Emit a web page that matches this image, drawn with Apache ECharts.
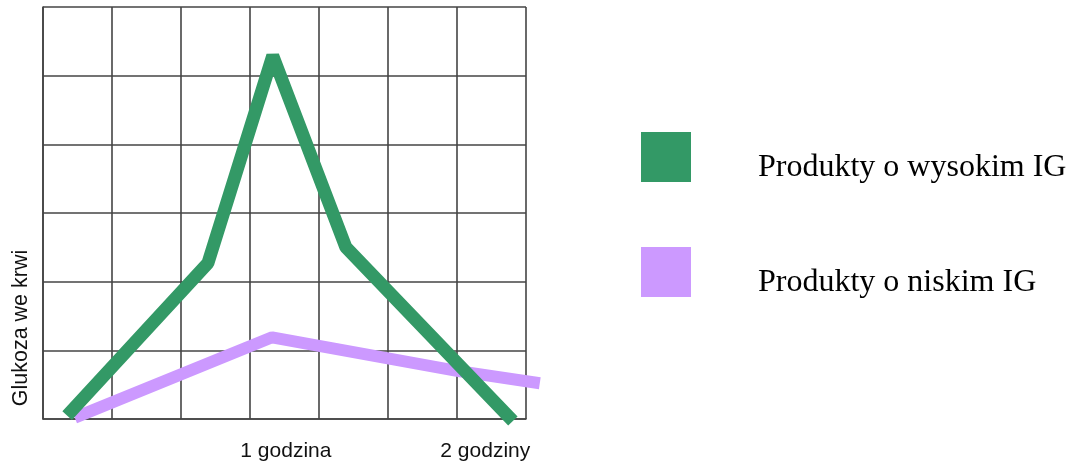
<!DOCTYPE html>
<html>
<head>
<meta charset="utf-8">
<script src="https://cdn.jsdelivr.net/npm/echarts@6/dist/echarts.min.js"></script>
<style>
html,body{margin:0;padding:0;background:#fff;}
#chart{width:1074px;height:465px;}
</style>
</head>
<body>
<div id="chart"></div>
<script>
// Data (x in grid columns, y in grid rows)
const seriesNames = ['Produkty o wysokim IG', 'Produkty o niskim IG'];
const highGI = [[0.35, 0.05], [2.39, 2.27], [3.33, 5.29], [4.39, 2.50], [6.81, -0.03]];
const lowGI = [[0.46, 0.02], [3.32, 1.19], [6.0, 0.70], [7.2, 0.52]];
const xTickValues = [3.52, 6.41];
const xTickLabels = ['1 godzina', '2 godziny'];
const yAxisTitle = 'Glukoza we krwi';

const chart = echarts.init(document.getElementById('chart'));
const gridColor = '#444444';
// grid 0: the 7x6 squared paper (x 0..7); grid 1: same scale, a bit wider so lines may run past the right edge
const colW = 69;
chart.setOption({
  animation: false,
  backgroundColor: '#fff',
  grid: [
    {left: 43, top: 7, right: 1074 - 43 - 7 * colW, bottom: 46},
    {left: 43, top: 7, right: 1074 - 43 - 7.5 * colW, bottom: 46}
  ],
  xAxis: [
    {
      gridIndex: 0, type: 'value', min: 0, max: 7, interval: 1,
      axisLine: {show: true, lineStyle: {color: gridColor, width: 1.6}},
      axisTick: {show: false},
      splitLine: {show: true, lineStyle: {color: gridColor, width: 1.6}},
      axisLabel: {
        show: true,
        customValues: xTickValues,
        formatter: function (v) {
          const i = xTickValues.findIndex(t => Math.abs(t - v) < 1e-6);
          return i >= 0 ? xTickLabels[i] : '';
        },
        margin: 22,
        color: '#111',
        fontFamily: 'Liberation Sans',
        fontSize: 21
      }
    },
    {
      gridIndex: 1, type: 'value', min: 0, max: 7.5,
      show: false, splitLine: {show: false}
    }
  ],
  yAxis: [
    {
      gridIndex: 0, type: 'value', min: 0, max: 6, interval: 1,
      name: yAxisTitle,
      nameLocation: 'middle',
      nameRotate: 90,
      nameGap: 11,
      nameTextStyle: {
        color: '#111', fontFamily: 'Liberation Sans', fontSize: 21.5,
        padding: [0, 230, 0, 0]
      },
      axisLine: {show: true, lineStyle: {color: gridColor, width: 1.6}},
      axisTick: {show: false},
      axisLabel: {show: false},
      splitLine: {show: true, lineStyle: {color: gridColor, width: 1.6}}
    },
    {
      gridIndex: 1, type: 'value', min: 0, max: 6,
      show: false, splitLine: {show: false}
    }
  ],
  legend: {
    orient: 'vertical',
    left: 641, top: 132,
    padding: 0,
    itemWidth: 50, itemHeight: 71, itemGap: 44,
    icon: 'path://M0,0H50V50H0Z M0,71L0.1,71',
    data: [seriesNames[0], seriesNames[1]],
    itemStyle: {borderWidth: 0},
    textStyle: {
      color: '#000', fontFamily: 'Liberation Serif', fontSize: 32,
      padding: [0, 0, 0, 62]
    }
  },
  series: [
    {
      name: seriesNames[1], type: 'line', data: lowGI,
      xAxisIndex: 1, yAxisIndex: 1,
      symbol: 'none', clip: false, z: 2,
      itemStyle: {color: '#cc99ff'},
      lineStyle: {color: '#cc99ff', width: 12, cap: 'butt', join: 'bevel'}
    },
    {
      name: seriesNames[0], type: 'line', data: highGI,
      xAxisIndex: 1, yAxisIndex: 1,
      symbol: 'none', clip: false, z: 3,
      itemStyle: {color: '#339966'},
      lineStyle: {color: '#339966', width: 13, cap: 'butt', join: 'bevel'}
    }
  ]
});
</script>
</body>
</html>
